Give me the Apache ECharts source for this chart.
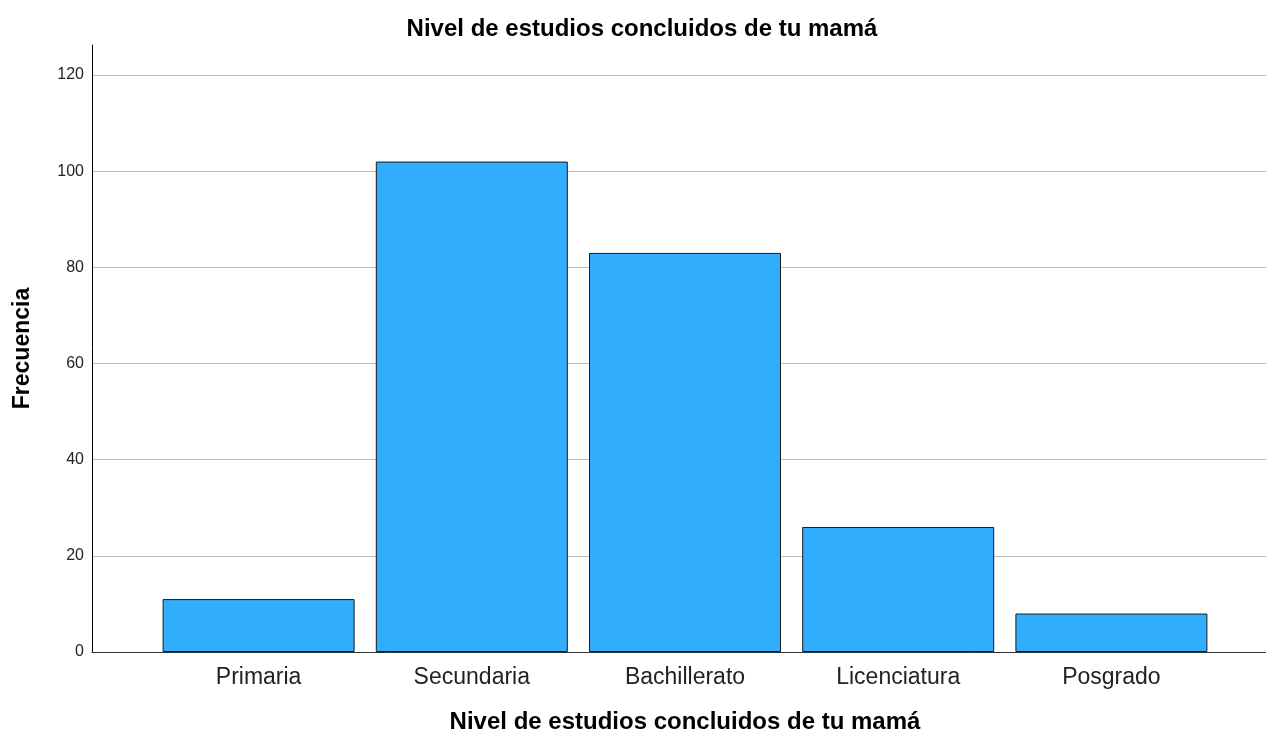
<!DOCTYPE html>
<html>
<head>
<meta charset="utf-8">
<title>Nivel de estudios concluidos de tu mamá</title>
<script src="https://cdn.jsdelivr.net/npm/echarts@6/dist/echarts.min.js"></script>
<style>
	html, body { margin: 0; padding: 0; background: #fff; }
	#chart { width: 1266px; height: 735px; }
</style>
</head>
<body>
<div id="chart"></div>
<script>
// datos del gráfico
var categorias = ['Primaria', 'Secundaria', 'Bachillerato', 'Licenciatura', 'Posgrado'];
var frecuencias = [11, 102, 83, 26, 8];
var yTicks = [0, 20, 40, 60, 80, 100, 120];

var fuente = '"Liberation Sans", Arial, sans-serif';

var myChart = echarts.init(document.getElementById('chart'));

var option = {
	backgroundColor: '#fff',
	animation: false,
	title: {
		text: 'Nivel de estudios concluidos de tu mamá',
		left: 637,
		textAlign: 'center',
		top: 12,
		textStyle: { fontFamily: fuente, fontSize: 24, fontWeight: 'bold', color: '#000' }
	},
	grid: [
		// rejilla de líneas y etiquetas del eje Y
		{ left: 92, right: 0, top: 75, bottom: 83, outerBoundsMode: 'none' },
		// rejilla de las barras
		{ left: 152, right: 48, top: 75, bottom: 83, outerBoundsMode: 'none' },
		// líneas de los ejes (el eje Y sube más arriba de 120)
		{ left: 92, right: 0, top: 45, bottom: 83, outerBoundsMode: 'none' }
	],
	xAxis: [
		{ gridIndex: 0, type: 'value', show: false },
		{
			gridIndex: 1,
			type: 'category',
			data: categorias,
			axisLine: { show: false },
			axisTick: { show: false },
			axisLabel: { fontFamily: fuente, fontSize: 23, color: '#222', margin: 14 },
			name: 'Nivel de estudios concluidos de tu mamá',
			nameLocation: 'middle',
			nameGap: 58,
			nameTextStyle: { fontFamily: fuente, fontSize: 24, fontWeight: 'bold', color: '#000' }
		},
		{
			gridIndex: 2,
			type: 'value',
			min: 0,
			max: 1,
			axisLine: { show: true, lineStyle: { color: '#333', width: 1 } },
			axisTick: { show: false },
			axisLabel: { show: false },
			splitLine: { show: false }
		}
	],
	yAxis: [
		{
			gridIndex: 0,
			type: 'value',
			min: yTicks[0],
			max: yTicks[yTicks.length - 1],
			interval: 20,
			axisLine: { show: false },
			axisTick: { show: false },
			axisLabel: { fontFamily: fuente, fontSize: 16, color: '#222', margin: 8 },
			splitLine: { show: true, lineStyle: { color: '#bdbdbd', width: 1 } }
		},
		{
			gridIndex: 1,
			type: 'value',
			min: yTicks[0],
			max: yTicks[yTicks.length - 1],
			show: false
		},
		{
			gridIndex: 2,
			type: 'value',
			min: 0,
			max: 1,
			axisLine: { show: true, lineStyle: { color: '#000', width: 1 } },
			axisTick: { show: false },
			axisLabel: { show: false },
			splitLine: { show: false },
			name: 'Frecuencia',
			nameLocation: 'middle',
			nameGap: 58,
			nameTextStyle: { fontFamily: fuente, fontSize: 23, fontWeight: 'bold', color: '#000' }
		}
	],
	series: [
		{
			type: 'bar',
			xAxisIndex: 1,
			yAxisIndex: 1,
			data: frecuencias,
			barWidth: 192,
			itemStyle: { color: '#31adfe', borderColor: '#1a1a1a', borderWidth: 1 }
		}
	]
};

myChart.setOption(option);
</script>
</body>
</html>
